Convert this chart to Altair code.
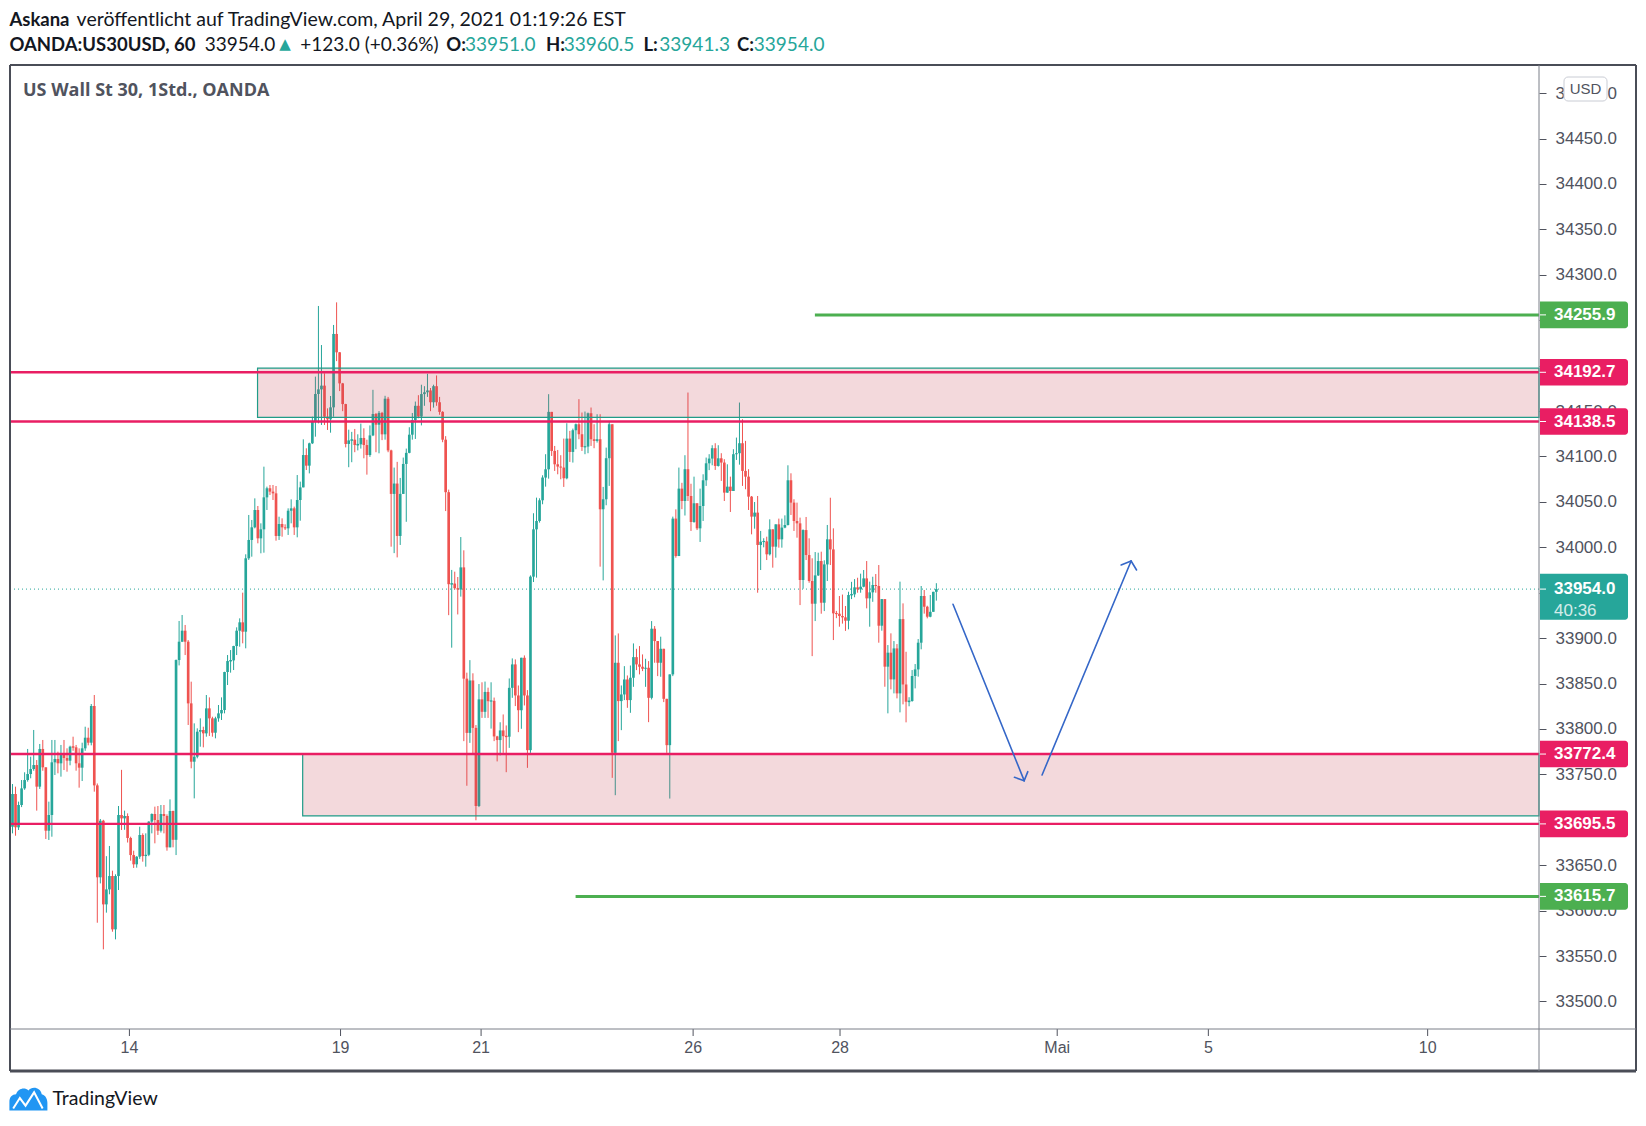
import altair as alt
import numpy as np
import pandas as pd

# ---------------- OANDA:US30USD, 1h bars ----------------
CLOSE = [
    33728.4, 33691.7, 33716.3, 33734.6, 33743.8, 33750.4, 33755.9, 33760.3, 33736.5, 33778.0,
    33757.8, 33688.0, 33705.3, 33763.3, 33767.0, 33762.2, 33771.3, 33768.0, 33765.1, 33780.5,
    33779.8, 33762.2, 33757.4, 33778.7, 33790.4, 33784.9, 33825.3, 33737.9, 33636.7, 33699.0,
    33606.9, 33623.4, 33638.1, 33579.4, 33638.1, 33705.3, 33701.6, 33704.2, 33680.0, 33661.2,
    33651.0, 33659.4, 33683.3, 33660.1, 33661.5, 33698.0, 33706.4, 33699.8, 33688.0, 33706.4,
    33704.2, 33669.7, 33709.7, 33678.0, 33875.9, 33896.1, 33908.2, 33896.1, 33828.2, 33764.0,
    33769.5, 33797.0, 33798.9, 33795.2, 33822.7, 33811.7, 33795.9, 33811.7, 33817.2, 33820.9,
    33862.7, 33874.8, 33875.5, 33891.3, 33908.2, 33917.4, 33907.1, 33987.9, 34008.1, 34022.0,
    34041.1, 34009.9, 34019.8, 34055.0, 34065.0, 34061.3, 34059.4, 34012.5, 34025.7, 34022.0,
    34020.9, 34040.3, 34042.9, 34022.0, 34052.1, 34066.0, 34101.6, 34089.9, 34114.5, 34138.3,
    34168.8, 34173.9, 34178.0, 34143.8, 34140.9, 34154.1, 34234.9, 34214.7, 34180.5, 34157.7,
    34113.8, 34117.7, 34118.5, 34112.6, 34113.4, 34120.4, 34112.6, 34101.6, 34123.2, 34146.8,
    34135.0, 34148.0, 34124.4, 34163.6, 34106.7, 34058.8, 34070.2, 34012.5, 34058.8, 34091.8,
    34104.0, 34124.0, 34140.0, 34155.8, 34144.0, 34168.7, 34170.7, 34172.7, 34159.7, 34177.4,
    34159.7, 34149.1, 34118.5, 34060.7, 33959.4, 33960.1, 33955.0, 33953.5, 33977.9, 33855.4,
    33795.7, 33853.4, 33801.2, 33715.2, 33832.6, 33818.9, 33840.8, 33830.6, 33831.0, 33791.8,
    33787.8, 33798.4, 33792.1, 33791.5, 33845.3, 33871.1, 33836.9, 33820.7, 33878.4, 33836.9,
    33776.7, 33967.7, 34019.8, 34029.0, 34051.8, 34076.8, 34085.9, 34149.1, 34106.1, 34091.4,
    34088.9, 34087.8, 34076.0, 34119.7, 34105.0, 34128.9, 34135.5, 34124.5, 34110.5, 34110.9,
    34147.6, 34119.0, 34117.1, 34119.0, 34041.9, 34052.9, 34098.1, 34135.5, 33773.7, 33872.9,
    33830.7, 33838.0, 33854.5, 33831.8, 33856.4, 33879.1, 33871.1, 33868.5, 33866.3, 33867.4,
    33834.3, 33910.4, 33896.8, 33872.9, 33888.3, 33833.2, 33782.2, 33860.1, 34031.6, 33990.4,
    34064.6, 34051.0, 34086.0, 34056.5, 34027.9, 34048.5, 34020.9, 34045.5, 34073.8, 34092.5,
    34097.7, 34109.1, 34089.6, 34098.0, 34093.3, 34060.2, 34066.8, 34062.0, 34102.5, 34103.6,
    34114.6, 34084.1, 34077.8, 34055.8, 34033.8, 34038.2, 34002.6, 34006.2, 34006.6, 33992.3,
    34019.8, 34000.7, 34025.3, 34008.8, 34021.7, 34024.6, 34073.8, 34049.2, 34029.0, 34026.4,
    33964.0, 34019.0, 33991.5, 33962.9, 33937.9, 33969.1, 33984.9, 33939.0, 33981.2, 34008.8,
    33997.7, 33927.3, 33926.9, 33924.4, 33922.9, 33919.2, 33947.5, 33948.2, 33955.9, 33953.7,
    33956.6, 33965.8, 33943.8, 33950.4, 33958.5, 33957.4, 33913.7, 33943.0, 33868.6, 33884.0,
    33854.6, 33888.7, 33839.2, 33921.0, 33849.0, 33830.0, 33830.8, 33858.3, 33865.6, 33895.0,
    33946.4, 33934.6, 33923.6, 33929.0, 33951.0, 33954.0,
]
HIGH = [
    33739.4, 33736.5, 33720.0, 33743.8, 33752.3, 33778.0, 33769.5, 33798.9, 33765.8, 33783.5,
    33787.9, 33757.8, 33720.0, 33787.9, 33787.9, 33775.0, 33782.4, 33787.9, 33778.7, 33781.6,
    33791.5, 33782.4, 33778.7, 33784.9, 33802.5, 33801.4, 33827.5, 33837.4, 33740.0, 33700.9,
    33700.0, 33660.0, 33671.2, 33644.0, 33640.0, 33715.2, 33755.0, 33710.1, 33707.1, 33681.4,
    33666.0, 33660.0, 33692.4, 33685.1, 33685.1, 33698.5, 33707.1, 33714.5, 33715.2, 33716.3,
    33716.3, 33706.0, 33722.5, 33710.1, 33876.5, 33918.9, 33925.5, 33914.5, 33897.9, 33852.1,
    33806.2, 33800.7, 33811.7, 33802.5, 33837.4, 33834.8, 33813.5, 33813.5, 33826.4, 33834.8,
    33863.0, 33881.4, 33886.9, 33891.6, 33911.9, 33921.8, 33950.1, 33992.3, 34035.6, 34030.1,
    34053.9, 34045.5, 34026.4, 34088.8, 34066.8, 34068.6, 34068.6, 34067.5, 34033.7, 34031.9,
    34025.3, 34042.9, 34052.8, 34044.8, 34079.6, 34072.3, 34118.9, 34109.0, 34115.2, 34143.8,
    34187.9, 34265.7, 34222.7, 34191.6, 34153.0, 34166.6, 34244.8, 34269.7, 34215.0, 34181.0,
    34158.0, 34129.5, 34127.1, 34130.3, 34124.4, 34136.2, 34131.0, 34118.5, 34134.2, 34173.4,
    34147.9, 34150.0, 34149.1, 34166.8, 34165.6, 34107.5, 34087.8, 34094.1, 34076.4, 34098.8,
    34108.7, 34132.2, 34147.9, 34160.5, 34167.5, 34179.0, 34177.4, 34191.1, 34175.4, 34179.0,
    34189.2, 34165.6, 34149.9, 34122.4, 34063.5, 33975.1, 33973.2, 33967.3, 34011.3, 33996.7,
    33862.0, 33875.8, 33861.3, 33804.3, 33849.5, 33851.4, 33852.2, 33845.5, 33851.4, 33834.6,
    33792.5, 33807.4, 33816.0, 33803.9, 33855.6, 33877.7, 33876.6, 33847.9, 33878.4, 33881.0,
    33842.8, 33969.1, 34037.5, 34054.7, 34054.0, 34079.3, 34102.5, 34168.6, 34149.1, 34111.6,
    34107.2, 34101.4, 34119.7, 34136.6, 34128.2, 34130.7, 34136.3, 34163.1, 34148.4, 34149.5,
    34148.4, 34153.9, 34135.5, 34146.5, 34146.5, 34066.5, 34109.8, 34139.2, 34135.5, 33903.0,
    33905.2, 33847.9, 33869.2, 33858.9, 33869.9, 33894.2, 33888.3, 33891.3, 33882.1, 33877.3,
    33874.7, 33918.8, 33913.3, 33896.8, 33901.6, 33888.3, 33833.2, 33860.1, 34033.8, 34041.8,
    34087.8, 34071.0, 34101.4, 34170.4, 34070.0, 34077.8, 34048.5, 34064.6, 34080.4, 34098.8,
    34102.5, 34112.4, 34114.6, 34112.4, 34103.6, 34097.0, 34091.4, 34077.8, 34108.0, 34120.8,
    34159.4, 34141.0, 34117.2, 34086.0, 34056.5, 34049.9, 34056.5, 34018.0, 34010.0, 34011.7,
    34030.8, 34019.8, 34025.3, 34031.6, 34031.6, 34035.2, 34090.3, 34081.5, 34052.9, 34049.2,
    34032.7, 34019.8, 34033.4, 34009.9, 33987.9, 33994.8, 33994.1, 33995.2, 33985.7, 34024.6,
    34054.6, 34020.9, 33930.0, 33946.4, 33948.0, 33935.4, 33951.1, 33962.0, 33965.0, 33966.5,
    33971.0, 33975.0, 33984.9, 33962.2, 33967.6, 33970.6, 33980.5, 33943.0, 33943.0, 33892.4,
    33905.3, 33896.8, 33893.5, 33962.2, 33938.3, 33885.0, 33835.0, 33864.9, 33871.5, 33899.0,
    33957.4, 33953.0, 33935.7, 33947.5, 33951.1, 33960.5,
]
LOW = [
    33685.1, 33682.5, 33688.8, 33714.0, 33733.0, 33742.0, 33745.7, 33754.0, 33710.1, 33734.0,
    33754.0, 33678.9, 33677.8, 33681.4, 33749.3, 33751.2, 33747.5, 33754.8, 33753.0, 33760.0,
    33776.0, 33754.1, 33735.4, 33742.7, 33776.0, 33782.0, 33782.0, 33731.0, 33586.7, 33630.0,
    33557.4, 33597.8, 33618.0, 33576.8, 33568.4, 33622.7, 33688.8, 33689.0, 33675.0, 33655.0,
    33647.0, 33647.3, 33657.0, 33653.9, 33648.4, 33660.0, 33685.1, 33674.1, 33683.3, 33686.0,
    33685.1, 33666.0, 33669.7, 33669.7, 33661.2, 33870.0, 33895.7, 33881.4, 33804.4, 33756.7,
    33723.6, 33767.7, 33780.5, 33779.8, 33791.5, 33792.3, 33791.5, 33789.7, 33808.0, 33809.9,
    33817.2, 33848.4, 33862.0, 33864.9, 33881.4, 33890.6, 33894.3, 33888.8, 33986.1, 33989.7,
    34020.9, 34004.4, 33993.4, 33994.1, 34041.1, 34057.6, 34052.1, 34007.3, 34008.1, 34011.7,
    34019.1, 34013.6, 34026.4, 34013.6, 34011.0, 34029.3, 34066.0, 34085.1, 34081.4, 34113.7,
    34121.8, 34136.5, 34134.7, 34134.7, 34129.2, 34126.2, 34143.8, 34205.0, 34172.0, 34149.9,
    34110.0, 34088.2, 34093.7, 34104.7, 34106.7, 34108.7, 34098.0, 34080.0, 34099.6, 34122.4,
    34104.7, 34103.5, 34118.0, 34118.5, 34104.7, 34000.7, 33993.6, 33988.9, 34002.6, 34058.8,
    34028.1, 34103.5, 34118.5, 34119.3, 34142.0, 34134.2, 34155.8, 34165.6, 34149.9, 34153.8,
    34155.8, 34145.9, 34115.7, 34039.9, 33925.3, 33889.5, 33953.5, 33926.1, 33945.7, 33786.6,
    33737.5, 33784.7, 33772.9, 33699.5, 33714.0, 33812.2, 33812.2, 33812.2, 33800.4, 33786.6,
    33764.3, 33770.9, 33773.7, 33752.4, 33779.2, 33834.3, 33825.2, 33796.5, 33800.2, 33825.9,
    33757.2, 33773.7, 33961.8, 33966.6, 34027.2, 34047.4, 34066.8, 34075.6, 34100.6, 34084.1,
    34080.4, 34074.9, 34066.5, 34074.9, 34094.0, 34093.3, 34108.0, 34119.0, 34106.1, 34102.5,
    34103.6, 34111.6, 34109.1, 34115.3, 33978.7, 33963.6, 34046.3, 34067.6, 33746.2, 33727.1,
    33786.6, 33798.7, 33831.8, 33823.3, 33817.8, 33846.4, 33864.8, 33860.1, 33863.7, 33846.4,
    33807.5, 33832.5, 33872.9, 33858.2, 33857.5, 33829.6, 33773.7, 33723.4, 33858.2, 33988.6,
    33990.4, 34042.0, 34035.0, 34051.0, 34018.0, 34027.0, 34019.0, 34005.9, 34029.0, 34067.6,
    34085.0, 34090.3, 34085.2, 34088.9, 34073.1, 34051.0, 34060.0, 34038.9, 34062.0, 34096.2,
    34091.0, 34067.6, 34063.9, 34041.1, 34014.3, 34020.5, 33950.0, 33975.0, 34000.0, 33986.0,
    33991.0, 33977.6, 33988.6, 33999.6, 33999.6, 34021.0, 34024.0, 34035.6, 34018.0, 34010.6,
    33936.4, 33954.4, 33986.0, 33961.0, 33880.2, 33918.8, 33968.4, 33926.9, 33929.8, 33962.9,
    33980.5, 33897.9, 33922.0, 33912.6, 33916.0, 33908.0, 33909.7, 33943.0, 33945.0, 33950.0,
    33950.0, 33956.0, 33932.8, 33912.6, 33940.0, 33950.0, 33895.0, 33908.2, 33846.5, 33817.2,
    33843.6, 33839.2, 33833.7, 33818.3, 33827.1, 33807.3, 33825.0, 33830.0, 33844.7, 33857.6,
    33887.7, 33927.0, 33921.8, 33923.0, 33929.0, 33941.3,
]
FIRST_OPEN = 33692.4

# time axis: day marks, in bar units
DAY_TICK_BAR = [38.6, 108.3, 154.7, 224.7, 273.2, 344.9, 394.8, 467.2]
DAY_TICK_LABEL = ["14", "19", "21", "26", "28", "Mai", "5", "10"]

PRICE_TICKS = [
    33500.0, 33550.0, 33600.0, 33650.0, 33700.0, 33750.0, 33800.0, 33850.0,
    33900.0, 33950.0, 34000.0, 34050.0, 34100.0, 34150.0, 34200.0, 34250.0,
    34300.0, 34350.0, 34400.0, 34450.0, 34500.0,
]

# drawn levels
RED_LEVELS = [34192.7, 34138.5, 33772.4, 33695.5]
GREEN_LEVELS = [34255.9, 33615.7]
GREEN_START_BAR = [264.9, 185.9]
ZONE_TOP = [34197.3, 33773.0]
ZONE_BOTTOM = [34143.1, 33704.3]
ZONE_START_BAR = [80.9, 95.8]
LAST_PRICE = 33954.0
COUNTDOWN = "40:36"

# projection arrows: (bar, price) -> (bar, price)
ARROW_X1 = [310.5, 334.0, 334.0, 339.9, 369.3, 369.3]
ARROW_Y1 = [33937.3, 33743.1, 33743.1, 33749.3, 33984.9, 33984.9]
ARROW_X2 = [334.0, 330.8, 335.2, 369.3, 366.0, 371.1]
ARROW_Y2 = [33743.1, 33746.8, 33753.0, 33984.9, 33980.5, 33975.0]

# ---------------- layout ----------------
W, H = 1529, 964
X_MIN, X_MAX = -0.825, 503.96
Y_MIN, Y_MAX = 33469.7, 34531.0
PRICE_PER_PX = (Y_MAX - Y_MIN) / H
RIGHT_EDGE = 1626
BOTTOM_EDGE = 1006

UP, DOWN = "#26a69a", "#ef5350"
PINK, GREEN, TEAL = "#e91e63", "#4caf50", "#26a69a"
INK, GREY = "#131722", "#50535e"

X_SCALE = alt.Scale(domain=[X_MIN, X_MAX], nice=False, zero=False)
Y_SCALE = alt.Scale(domain=[Y_MIN, Y_MAX], nice=False, zero=False)
Y_AXIS = alt.Axis(
    orient="right", values=PRICE_TICKS, format=".1f", title=None, grid=False,
    domain=False, ticks=True, tickSize=7, tickColor=GREY, tickWidth=1,
    labelPadding=9, labelFont="Liberation Sans", labelFontSize=17,
    labelColor=GREY, labelFlush=False, labelOverlap=False,
)


def X(field):
    return alt.X(field, type="quantitative", scale=X_SCALE, axis=None, title=None)


def Y(field):
    return alt.Y(field, type="quantitative", scale=Y_SCALE, axis=Y_AXIS, title=None)


def one_row(**kw):
    return pd.DataFrame({k: [v] for k, v in (kw or {"k": 0}).items()})


# ---------------- candles ----------------
opens = [FIRST_OPEN] + CLOSE[:-1]  # each hourly bar opens where the previous one closed
cd = pd.DataFrame({"bar": np.arange(len(CLOSE)), "open": opens,
                   "high": HIGH, "low": LOW, "close": CLOSE})
cd["high"] = cd[["high", "open", "close"]].max(axis=1)
cd["low"] = cd[["low", "open", "close"]].min(axis=1)
cd["dir"] = np.where(cd["close"] >= cd["open"], "up", "down")
cd["btop"] = cd[["open", "close"]].max(axis=1)
cd["bbot"] = cd[["open", "close"]].min(axis=1)
flat = (cd["btop"] - cd["bbot"]) < 0.9
cd.loc[flat, "btop"] += 0.45
cd.loc[flat, "bbot"] -= 0.45
cd["x0"] = cd["bar"] - 0.44
cd["x1"] = cd["bar"] + 0.44

dir_color = alt.Color("dir:N", scale=alt.Scale(domain=["up", "down"], range=[UP, DOWN]), legend=None)

wicks = alt.Chart(cd).mark_rule(strokeWidth=1).encode(
    x=X("bar"), y=Y("low"), y2="high", color=dir_color)
bodies = alt.Chart(cd).mark_rect().encode(
    x=X("x0"), x2="x1", y=Y("bbot"), y2="btop", color=dir_color)

# ---------------- levels, zones, drawings ----------------
last_line = alt.Chart(one_row(p=LAST_PRICE)).mark_rule(
    color=TEAL, strokeWidth=1, strokeDash=[1, 3]).encode(
    x=alt.value(0), x2=alt.value(W), y=Y("p"))

zones_df = pd.DataFrame({"start": ZONE_START_BAR, "end": [X_MAX] * 2,
                         "top": ZONE_TOP, "bottom": ZONE_BOTTOM})
zones = alt.Chart(zones_df).mark_rect(
    fill="#c34150", fillOpacity=0.2, stroke="#1f9c88", strokeWidth=1.2).encode(
    x=X("start"), x2="end", y=Y("bottom"), y2="top")

red_lines = alt.Chart(pd.DataFrame({"p": RED_LEVELS})).mark_rule(
    color=PINK, strokeWidth=2.4).encode(x=alt.value(0), x2=alt.value(W), y=Y("p"))

green_df = pd.DataFrame({"p": GREEN_LEVELS, "start": GREEN_START_BAR, "end": [X_MAX] * 2})
green_lines = alt.Chart(green_df).mark_rule(color=GREEN, strokeWidth=3).encode(
    x=X("start"), x2="end", y=Y("p"))

arrows_df = pd.DataFrame({"x1": ARROW_X1, "y1": ARROW_Y1, "x2": ARROW_X2, "y2": ARROW_Y2})
arrows = alt.Chart(arrows_df).mark_rule(
    color="#3567c8", strokeWidth=1.6, strokeCap="round").encode(
    x=X("x1"), x2="x2", y=Y("y1"), y2="y2")

# ---------------- price-scale badges ----------------
half = 13.3 * PRICE_PER_PX
badge_df = pd.DataFrame({
    "p": RED_LEVELS + GREEN_LEVELS,
    "fill": [PINK] * len(RED_LEVELS) + [GREEN] * len(GREEN_LEVELS),
})
badge_df["top"] = badge_df["p"] + half
badge_df["bot"] = badge_df["p"] - half
badge_df["txt"] = badge_df["p"].map(lambda v: f"{v:.1f}")

last_df = pd.DataFrame({"p": [LAST_PRICE], "fill": [TEAL],
                        "top": [LAST_PRICE + 15.3 * PRICE_PER_PX],
                        "bot": [LAST_PRICE - 30.7 * PRICE_PER_PX],
                        "txt": [f"{LAST_PRICE:.1f}"], "cd": [COUNTDOWN]})
all_badges = pd.concat([badge_df, last_df[badge_df.columns]])

badge_box = alt.Chart(all_badges).mark_rect(
    cornerRadiusTopRight=3, cornerRadiusBottomRight=3).encode(
    x=alt.value(W + 1), x2=alt.value(W + 89), y=Y("bot"), y2="top",
    color=alt.Color("fill:N", scale=None))
badge_tick = alt.Chart(all_badges).mark_rule(
    color="white", strokeWidth=1).encode(x=alt.value(W), x2=alt.value(W + 7), y=Y("p"))
badge_text = alt.Chart(all_badges).mark_text(
    align="left", baseline="middle", font="Liberation Sans", fontWeight="bold",
    fontSize=17, color="white").encode(x=alt.value(W + 15), y=Y("p"), text="txt:N")
countdown_text = alt.Chart(last_df).mark_text(
    align="left", baseline="middle", font="Liberation Sans", fontSize=17,
    color="white", opacity=0.8, dy=22).encode(x=alt.value(W + 15), y=Y("p"), text="cd:N")

# ---------------- time axis ----------------
days_df = pd.DataFrame({"bar": DAY_TICK_BAR, "lab": DAY_TICK_LABEL})
day_ticks = alt.Chart(days_df).mark_rule(color=GREY, strokeWidth=1).encode(
    x=X("bar"), y=alt.value(H), y2=alt.value(H + 7))
day_labels = alt.Chart(days_df).mark_text(
    baseline="middle", align="center", font="Liberation Sans", fontSize=16,
    color=GREY).encode(x=X("bar"), y=alt.value(H + 19), text="lab:N")

# ---------------- frame ----------------
frame_df = pd.DataFrame({
    "x": [0, 0, RIGHT_EDGE, 0, W, 0],
    "x2": [0, RIGHT_EDGE, RIGHT_EDGE, RIGHT_EDGE, W, RIGHT_EDGE],
    "y": [0, 0, 0, BOTTOM_EDGE, 0, H],
    "y2": [BOTTOM_EDGE, 0, BOTTOM_EDGE, BOTTOM_EDGE, BOTTOM_EDGE, H],
    "w": [2, 2, 2, 3, 1, 1],
    "c": ["#4a4d57", "#4a4d57", "#4a4d57", "#4a4d57", "#7b7e88", "#7b7e88"],
})
frame = alt.Chart(frame_df).mark_rule().encode(
    x=alt.X("x:Q", scale=None, axis=None), x2="x2:Q",
    y=alt.Y("y:Q", scale=None, axis=None), y2="y2:Q",
    strokeWidth=alt.StrokeWidth("w:Q", scale=None),
    color=alt.Color("c:N", scale=None))

# ---------------- texts ----------------
def txt(s, x, y, size=19, weight="normal", color=INK, font="Lato", align="left"):
    return alt.Chart(one_row(t=s)).mark_text(
        align=align, baseline="middle", font=font, fontSize=size,
        fontWeight=weight, color=color).encode(
        x=alt.value(x), y=alt.value(y), text="t:N")


header = [
    txt("Askana", -0.6, -45, weight="bold", size=18.5),
    txt("veröffentlicht auf TradingView.com, April 29, 2021 01:19:26 EST", 66.6, -45, size=19.5),
    txt("OANDA:US30USD, 60", -0.6, -20, weight="bold", size=18.5),
    txt("33954.0", 194.7, -20),
    txt("▲", 269.2, -21, size=15, color=TEAL, font="DejaVu Sans"),
    txt("+123.0 (+0.36%)", 290.2, -20),
    txt("O:", 436.2, -20, weight="bold", size=18.5),
    txt("33951.0", 455.0, -20, color=TEAL),
    txt("H:", 535.9, -20, weight="bold", size=18.5),
    txt("33960.5", 553.7, -20, color=TEAL),
    txt("L:", 633.5, -20, weight="bold", size=18.5),
    txt("33941.3", 649.3, -20, color=TEAL),
    txt("C:", 727.0, -20, weight="bold", size=18.5),
    txt("33954.0", 743.8, -20, color=TEAL),
    txt("US Wall St 30, 1Std., OANDA", 13, 26, size=18, weight="bold",
        color=GREY, font="Open Sans"),
    txt("TradingView", 42.5, 1034, size=19.5, color=INK),
]

usd_box = alt.Chart(one_row()).mark_rect(
    fill="white", stroke="#c9ccd4", strokeWidth=1, cornerRadius=4).encode(
    x=alt.value(1554), x2=alt.value(1597), y=alt.value(12), y2=alt.value(36))
usd_text = txt("USD", 1575.5, 24, size=15, color=GREY, font="Liberation Sans", align="center")

CLOUD = ("M-1,0.6 L-1,0.15 C-1,-0.1 -0.85,-0.25 -0.65,-0.25 C-0.55,-0.55 -0.2,-0.65 0,-0.45 "
         "C0.2,-0.7 0.65,-0.6 0.7,-0.25 C0.9,-0.2 1,0 1,0.2 L1,0.6 Z")
ZIGZAG = "M-0.8,0.5 L-0.45,-0.05 L-0.15,0.35 L0.3,-0.35 L0.75,0.5"
logo = alt.Chart(one_row()).mark_point(
    shape=CLOUD, filled=True, size=1444, color="#2196f3", opacity=1).encode(
    x=alt.value(18.4), y=alt.value(1034))
logo_line = alt.Chart(one_row()).mark_point(
    shape=ZIGZAG, filled=False, size=1444, color="white", strokeWidth=2, opacity=1).encode(
    x=alt.value(18.4), y=alt.value(1034))

chart = alt.layer(
    last_line, wicks, bodies, zones, red_lines, green_lines, arrows,
    badge_box, badge_tick, badge_text, countdown_text,
    day_ticks, day_labels, frame, usd_box, usd_text, logo, logo_line,
    *header,
).properties(
    width=W, height=H, autosize="none",
    padding={"left": 10, "top": 65, "right": 107, "bottom": 97},
    background="white",
).configure_view(stroke=None)

chart.save("out.html", embed_options={"renderer": "svg", "actions": False})
